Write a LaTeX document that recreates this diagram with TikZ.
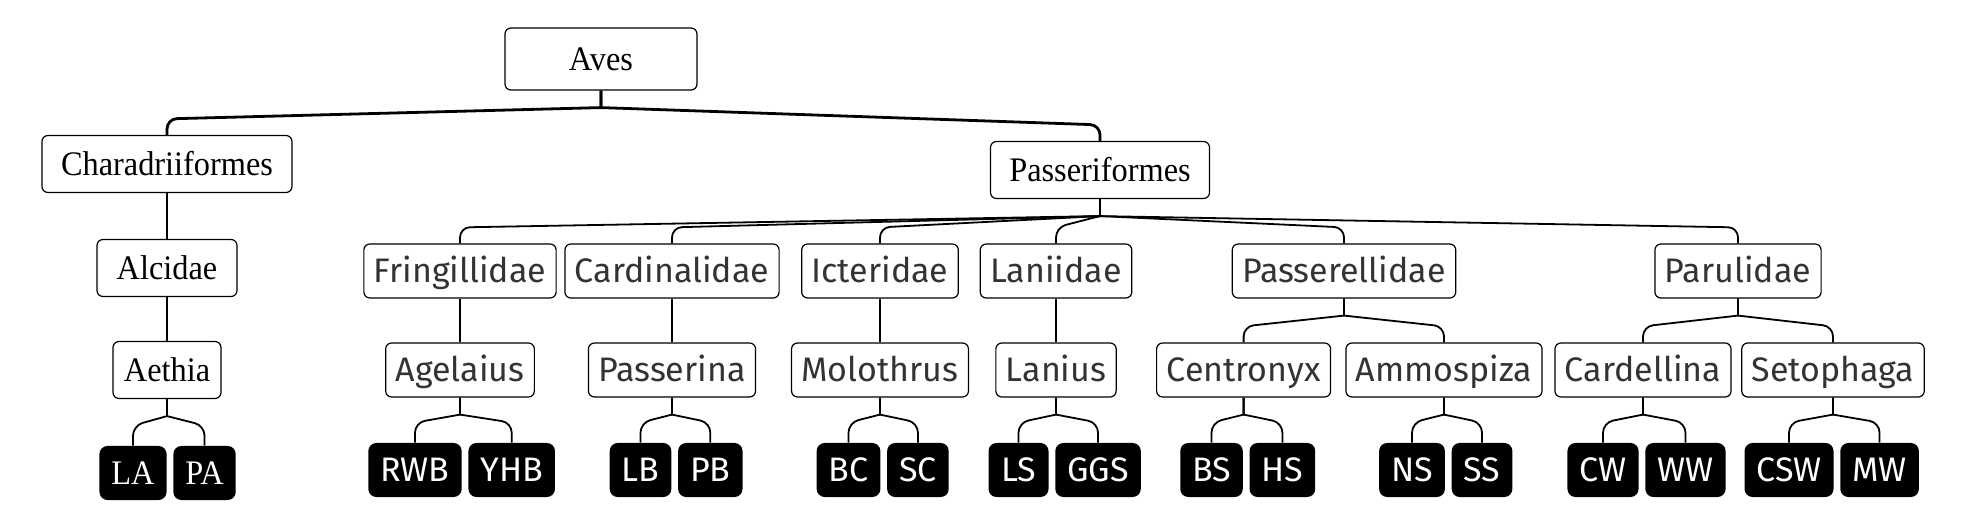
\documentclass[tikz,border=0pt]{standalone}
\usepackage{fontspec}
\setmainfont{Liberation Serif}[FakeStretch=0.94]
\newfontfamily\cladefont{Fira Sans}
\usetikzlibrary{positioning}
\definecolor{labelgray}{HTML}{333333}

\begin{document}
\begin{tikzpicture}[x=0.5pt, y=-0.5pt, node distance=49.5pt,
  order/.style = {draw, line width=0.6pt, rounded corners=3pt, fill=white, inner xsep=4pt,
    minimum height=28.5pt, text height=11.4pt, text depth=0pt, font=\fontsize{17.2}{20}\selectfont},
  clade/.style = {draw, line width=0.6pt, rounded corners=3pt, fill=white, inner xsep=5pt,
    minimum height=27pt, text height=11.7pt, text depth=0pt, text=labelgray, font=\cladefont\fontsize{17}{20}\selectfont},
  species/.style = {fill=black, text=white, rounded corners=4pt, inner xsep=6pt, minimum width=30pt,
    minimum height=27pt, text height=11.7pt, text depth=0pt, font=\cladefont\fontsize{17}{20}\selectfont},
  speciesrm/.style = {species, text height=11.4pt, font=\fontsize{17.2}{20}\selectfont},
  link/.style = {line width=0.9pt, to path={-- ++(0,-8.5pt) [rounded corners=5pt] -- ([yshift=#1]\tikztotarget) -- (\tikztotarget)}},
  link/.default = 8pt]
\useasboundingbox (0,0) rectangle (1968,528);

% orders
\node[order, minimum width=96pt, minimum height=31pt] (aves) at (601,59) {Aves};
\node[order, minimum width=125pt] (charad) at (167,164) {Charadriiformes};
\node[order, minimum width=109.5pt] (passer) at (1100,170) {Passeriformes};
\node[order, minimum width=70pt] (alcid) at (167,268) {Alcidae};
\node[order, minimum width=54pt] (aethia) at (167,370) {Aethia};

% families
\node[clade] (fring) at (460,271) {Fringillidae};
\node[clade] (cardin) at (672,271) {Cardinalidae};
\node[clade] (icter) at (880,271) {Icteridae};
\node[clade] (lani) at (1056,271) {Laniidae};
\node[clade] (passerel) at (1344,271) {Passerellidae};
\node[clade] (paru) at (1738,271) {Parulidae};

% genera
\node[clade] (agel) [below of=fring] {Agelaius};
\node[clade] (passerina) [below of=cardin] {Passerina};
\node[clade] (moloth) [below of=icter] {Molothrus};
\node[clade] (lanius) [below of=lani] {Lanius};
\node[clade] (centro) at (1243.6,370) {Centronyx};
\node[clade] (ammo) at (1444,370) {Ammospiza};
\node[clade] (cardel) at (1643,370) {Cardellina};
\node[clade] (setoph) at (1833,370) {Setophaga};

% species
\node[speciesrm] (la) at (133,473) {LA};
\node[speciesrm] (pa) [right=3pt of la] {PA};
\node[species] (rwb) at (415,470) {RWB};
\node[species] (yhb) [right=3pt of rwb] {YHB};
\node[species] (lb) at (640.5,470) {LB};
\node[species] (pb) [right=3pt of lb] {PB};
\node[species] (bc) at (848.5,470) {BC};
\node[species] (sc) [right=3pt of bc] {SC};
\node[species] (ls) at (1018.5,470) {LS};
\node[species] (ggs) [right=3pt of ls] {GGS};
\node[species] (bs) at (1211.5,470) {BS};
\node[species] (hs) [right=3pt of bs] {HS};
\node[species] (ns) at (1412,470) {NS};
\node[species] (ss) [right=3pt of ns] {SS};
\node[species] (cw) at (1603,470) {CW};
\node[species] (ww) [right=3pt of cw] {WW};
\node[species] (csw) at (1789,470) {CSW};
\node[species] (mw) [right=3pt of csw] {MW};

\draw[link, line width=1.4pt] (aves.south) to (charad.north);
\draw[link, line width=1.4pt] (aves.south) to (passer.north);
\draw[link] (charad.south) to (alcid.north);
\draw[link] (alcid.south) to (aethia.north);
\draw[link=10pt] (aethia.south) to (la.north);
\draw[link=10pt] (aethia.south) to (pa.north);

\draw[link] (passer.south) to (fring.north);
\draw[link] (passer.south) to (cardin.north);
\draw[link] (passer.south) to (icter.north);
\draw[link] (passer.south) to (lani.north);
\draw[link] (passer.south) to (passerel.north);
\draw[link] (passer.south) to (paru.north);

\draw[link] (fring.south) to (agel.north);
\draw[link] (cardin.south) to (passerina.north);
\draw[link] (icter.south) to (moloth.north);
\draw[link] (lani.south) to (lanius.north);
\draw[link] (passerel.south) to (centro.north);
\draw[link] (passerel.south) to (ammo.north);
\draw[link] (paru.south) to (cardel.north);
\draw[link] (paru.south) to (setoph.north);

\draw[link=10pt] (agel.south) to (rwb.north);
\draw[link=10pt] (agel.south) to (yhb.north);
\draw[link=10pt] (passerina.south) to (lb.north);
\draw[link=10pt] (passerina.south) to (pb.north);
\draw[link=10pt] (moloth.south) to (bc.north);
\draw[link=10pt] (moloth.south) to (sc.north);
\draw[link=10pt] (lanius.south) to (ls.north);
\draw[link=10pt] (lanius.south) to (ggs.north);
\draw[link=10pt] (centro.south) to (bs.north);
\draw[link=10pt] (centro.south) to (hs.north);
\draw[link=10pt] (ammo.south) to (ns.north);
\draw[link=10pt] (ammo.south) to (ss.north);
\draw[link=10pt] (cardel.south) to (cw.north);
\draw[link=10pt] (cardel.south) to (ww.north);
\draw[link=10pt] (setoph.south) to (csw.north);
\draw[link=10pt] (setoph.south) to (mw.north);

\end{tikzpicture}
\end{document}
